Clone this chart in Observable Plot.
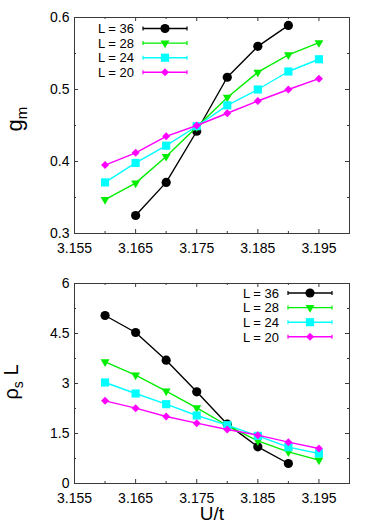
<!DOCTYPE html>
<html><head><meta charset="utf-8">
<script src="https://cdn.jsdelivr.net/npm/d3@7"></script>
<script src="https://cdn.jsdelivr.net/npm/@observablehq/plot@0.6"></script>
<style>
body{margin:0;background:#fff;}
#chart svg{display:block;}
</style>
</head><body><div id="chart"></div>
<script>
// ---------- data ----------
const seriesLabels = ["L = 36", "L = 28", "L = 24", "L = 20"];
const Uall  = [3.16, 3.165, 3.17, 3.175, 3.18, 3.185, 3.19, 3.195];
const U36top = [3.165, 3.17, 3.175, 3.18, 3.185, 3.19];
const U36bot = [3.16, 3.165, 3.17, 3.175, 3.18, 3.185, 3.19];

const gm36 = [0.325, 0.371, 0.442, 0.517, 0.560, 0.589];
const gm28 = [0.347, 0.370, 0.407, 0.448, 0.489, 0.524, 0.548, 0.565];
const gm24 = [0.371, 0.398, 0.422, 0.449, 0.478, 0.500, 0.525, 0.542];
const gm20 = [0.395, 0.412, 0.435, 0.450, 0.467, 0.484, 0.500, 0.515];

const rho36 = [5.04, 4.53, 3.70, 2.75, 1.78, 1.10, 0.60];
const rho28 = [3.65, 3.25, 2.77, 2.27, 1.74, 1.28, 0.95, 0.70];
const rho24 = [3.03, 2.70, 2.38, 2.04, 1.75, 1.43, 1.09, 0.90];
const rho20 = [2.48, 2.26, 2.01, 1.81, 1.62, 1.45, 1.24, 1.05];

const xMajor = [3.155, 3.165, 3.175, 3.185, 3.195];
const xMinor = [3.16, 3.17, 3.18, 3.19];
const gmMajor = [0.3, 0.4, 0.5, 0.6];
const gmMinor = [0.35, 0.45, 0.55];
const rhoMajor = [0, 1.5, 3, 4.5, 6];
const rhoMinor = [0.75, 2.25, 3.75, 5.25];

// ---------- styles ----------
const FONT = "'Liberation Sans', Arial, Helvetica, sans-serif";
const triDown = {
  draw(ctx, size) {
    const y = -Math.sqrt(size / (Math.sqrt(3) * 3));
    ctx.moveTo(0, -y * 2);
    ctx.lineTo(-Math.sqrt(3) * y, y);
    ctx.lineTo(Math.sqrt(3) * y, y);
    ctx.closePath();
  }
};
const styles = [
  {color: "#000000", symbol: "circle", r: 4.6},
  {color: "#00ee00", symbol: triDown, r: 3.3},
  {color: "#00ffff", symbol: "square", r: 4.6},
  {color: "#ff00ff", symbol: "diamond2", r: 3.6}
];
const d3sym = s => s === "circle" ? d3.symbolCircle : s === "square" ? d3.symbolSquare : s === "diamond2" ? d3.symbolDiamond2 : s;

function rows(xs, ys) { return xs.map((x, i) => ({x, y: ys[i]})); }

function panel({height, marginTop, marginBottom, yDomain, yMajor, yMinor, series}) {
  const W = 374, ml = 74, mr = 25;
  const innerW = W - ml - mr, innerH = height - marginTop - marginBottom;
  const frameC = "#3a3a3a";
  const marks = [
    Plot.frame({stroke: frameC, strokeWidth: 1}),
    Plot.tickX(xMajor, {x: d => d, stroke: frameC, insetTop: innerH - 4}),
    Plot.tickX(xMinor, {x: d => d, stroke: frameC, insetTop: innerH - 2}),
    Plot.tickX(xMajor, {x: d => d, stroke: frameC, insetBottom: innerH - 4}),
    Plot.tickX(xMinor, {x: d => d, stroke: frameC, insetBottom: innerH - 2}),
    Plot.tickY(yMajor, {y: d => d, stroke: frameC, insetRight: innerW - 4}),
    Plot.tickY(yMinor, {y: d => d, stroke: frameC, insetRight: innerW - 2}),
    Plot.tickY(yMajor, {y: d => d, stroke: frameC, insetLeft: innerW - 4}),
    Plot.tickY(yMinor, {y: d => d, stroke: frameC, insetLeft: innerW - 2}),
    Plot.axisX({ticks: xMajor, tickSize: 0, tickPadding: 10, tickFormat: d3.format(".3f"), fontSize: 14, label: null}),
    Plot.axisY({ticks: yMajor, tickSize: 0, tickPadding: 5, tickFormat: d => String(d), fontSize: 14, label: null})
  ];
  series.forEach((s, i) => {
    const st = styles[i];
    marks.push(Plot.line(s, {x: "x", y: "y", stroke: st.color, strokeWidth: 1.4}));
    marks.push(Plot.dot(s, {x: "x", y: "y", fill: st.color, stroke: "none", symbol: st.symbol, r: st.r}));
  });
  return Plot.plot({
    width: W, height, marginLeft: ml, marginRight: mr, marginTop, marginBottom,
    style: {fontFamily: FONT, fontSize: "14px", color: "#000", background: "#fff"},
    x: {domain: [3.155, 3.2]},
    y: {domain: yDomain},
    marks
  });
}

function legend(svg, x0, y0, dy) {
  const g = d3.select(svg).append("g");
  seriesLabels.forEach((lab, i) => {
    const st = styles[i];
    const y = y0 + i * dy;
    g.append("text").attr("x", x0).attr("y", y + 4.7).attr("text-anchor", "end")
      .attr("font-family", FONT).attr("font-size", 13).attr("fill", "#000").text(lab);
    const lx1 = x0 + 9, lx2 = x0 + 53, mx = (lx1 + lx2) / 2;
    g.append("line").attr("x1", lx1).attr("x2", lx2).attr("y1", y).attr("y2", y).attr("stroke", st.color).attr("stroke-width", 1.4);
    [lx1, lx2].forEach(xx => g.append("line").attr("x1", xx).attr("x2", xx).attr("y1", y - 2).attr("y2", y + 2).attr("stroke", st.color).attr("stroke-width", 1.2));
    g.append("path").attr("transform", `translate(${mx},${y})`)
      .attr("d", d3.symbol(d3sym(st.symbol), Math.PI * st.r * st.r)()).attr("fill", st.color);
  });
}

const topPanel = panel({
  height: 258, marginTop: 17, marginBottom: 25,
  yDomain: [0.3, 0.6], yMajor: gmMajor, yMinor: gmMinor,
  series: [rows(U36top, gm36), rows(Uall, gm28), rows(Uall, gm24), rows(Uall, gm20)]
});
legend(topPanel, 134, 28.5, 14.6);
{
  const t = d3.select(topPanel).append("text").attr("transform", "translate(22,119) rotate(-90)")
    .attr("text-anchor", "middle").attr("font-family", FONT).attr("font-size", 22).attr("fill", "#000");
  t.append("tspan").text("g");
  t.append("tspan").attr("font-size", 15).attr("dy", 5).text("m");
}

const botPanel = panel({
  height: 269, marginTop: 25, marginBottom: 44,
  yDomain: [0, 6], yMajor: rhoMajor, yMinor: rhoMinor,
  series: [rows(U36bot, rho36), rows(Uall, rho28), rows(Uall, rho24), rows(Uall, rho20)]
});
legend(botPanel, 279, 293 - 258, 14.6);
{
  const t = d3.select(botPanel).append("text").attr("transform", "translate(18,124) rotate(-90)")
    .attr("text-anchor", "middle").attr("font-family", FONT).attr("font-size", 20).attr("fill", "#000");
  t.append("tspan").text("ρ");
  t.append("tspan").attr("font-size", 14).attr("dy", 5).text("s");
  t.append("tspan").attr("dy", -5).text(" L");
  d3.select(botPanel).append("text").attr("x", 212).attr("y", 262).attr("text-anchor", "middle")
    .attr("font-family", FONT).attr("font-size", 19).attr("fill", "#000").text("U/t");
}

document.getElementById("chart").append(topPanel, botPanel);
</script>
</body></html>
